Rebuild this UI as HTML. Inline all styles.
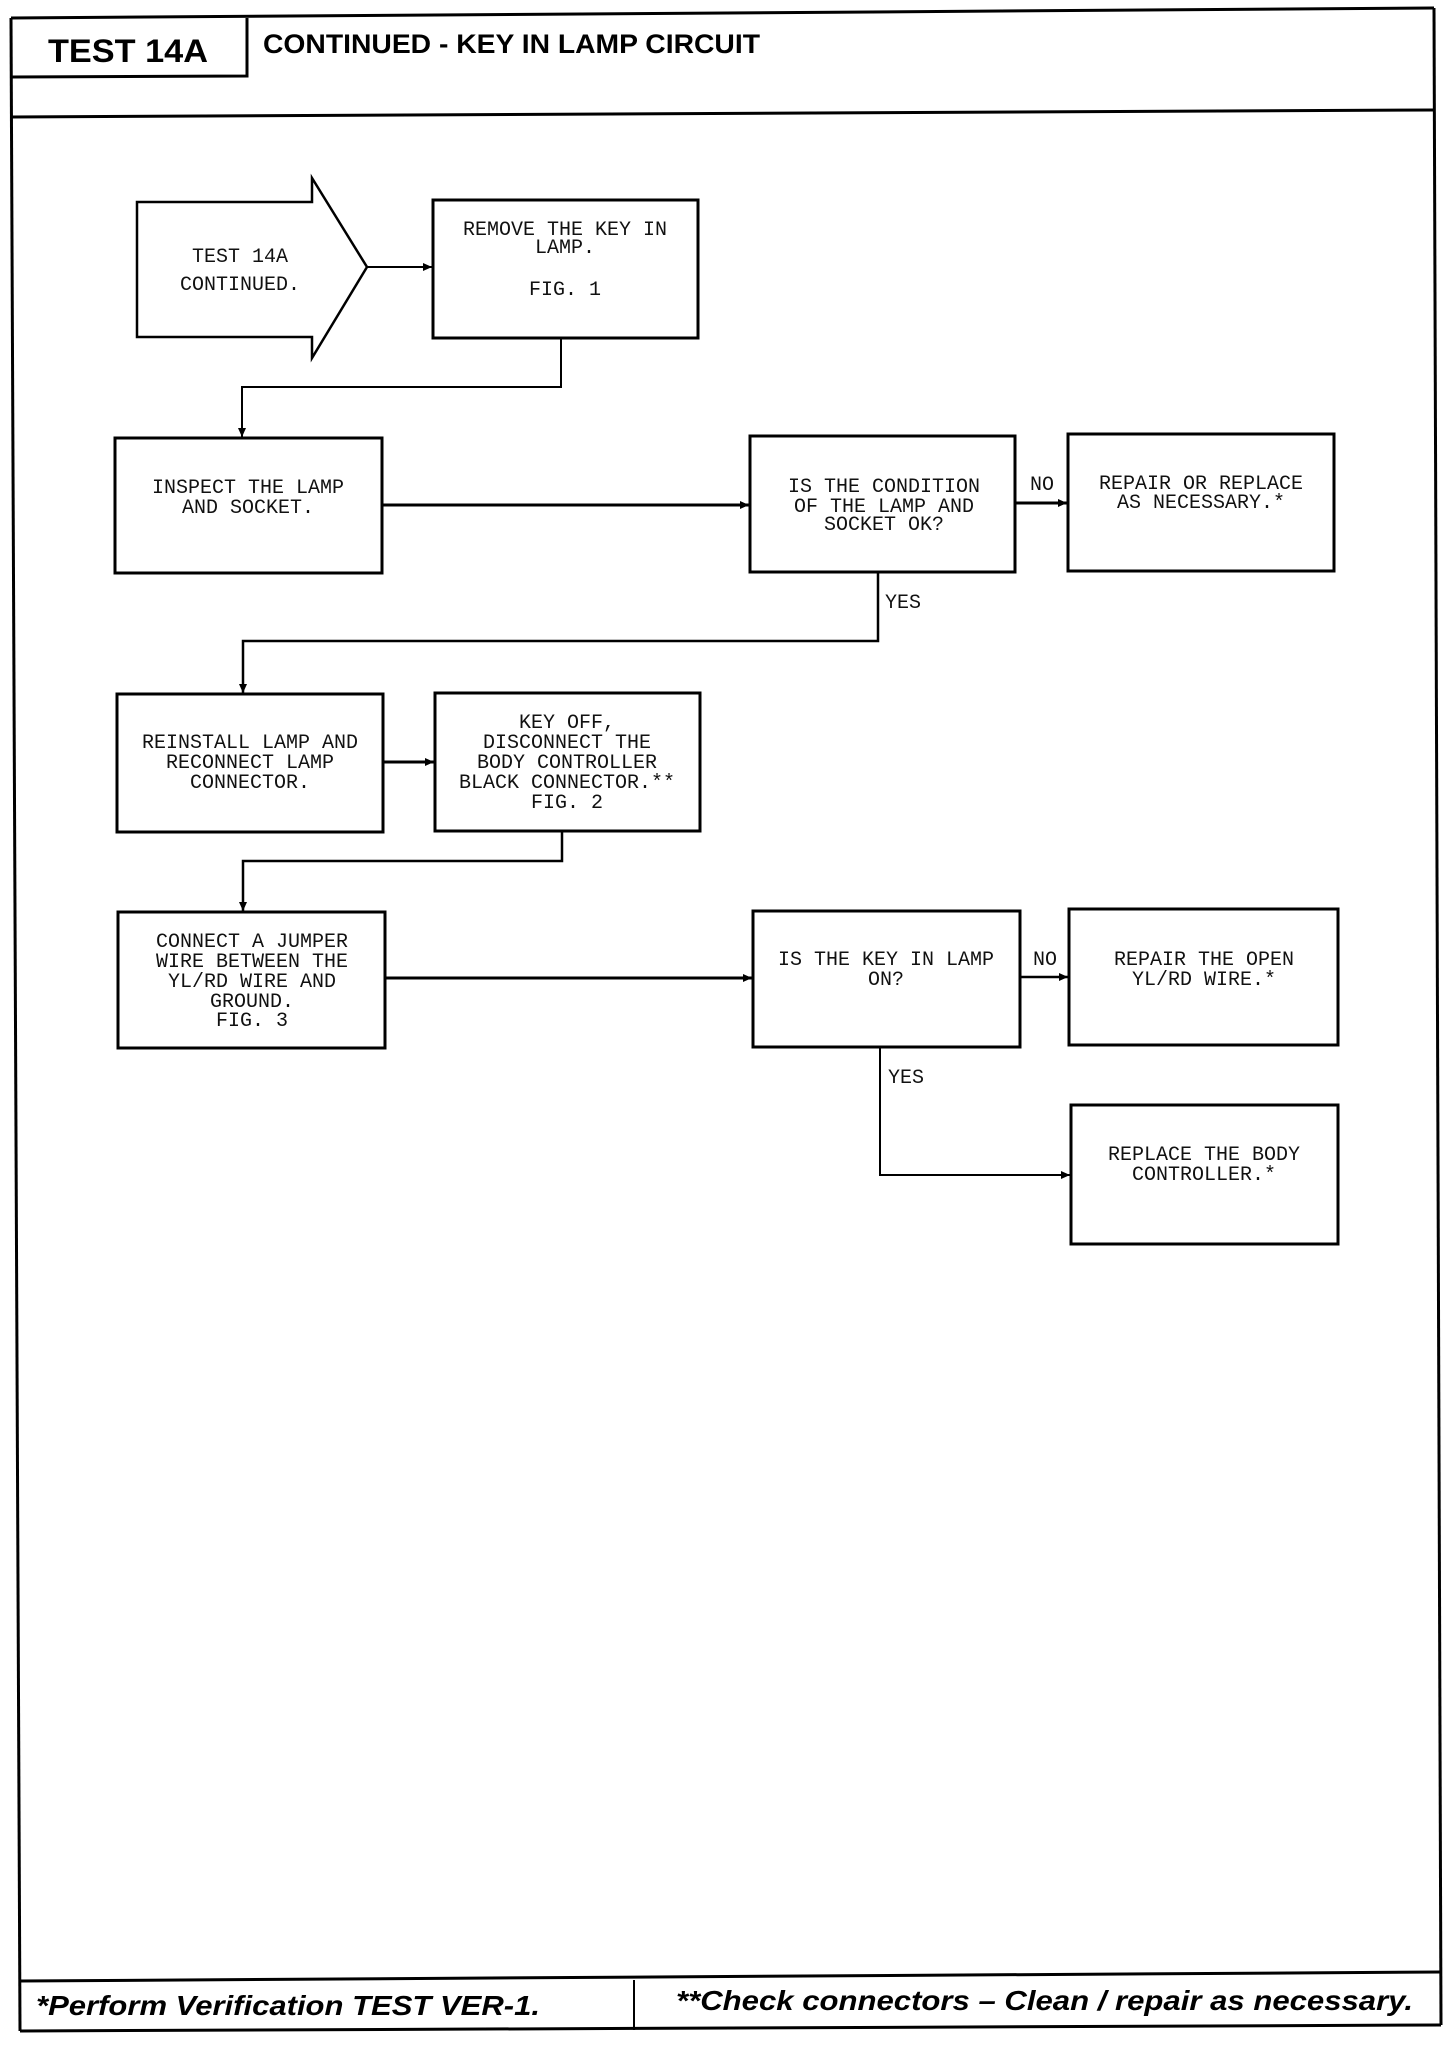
<!DOCTYPE html>
<html><head><meta charset="utf-8"><style>
html,body{margin:0;padding:0;background:#fff;}
svg{display:block;}
.t{font-family:"Liberation Mono",monospace;font-size:20px;fill:#111;text-anchor:middle;}
.l{font-family:"Liberation Mono",monospace;font-size:20px;fill:#111;}
.h{font-family:"Liberation Sans",sans-serif;font-weight:bold;fill:#000;}
</style></head><body>
<svg width="1456" height="2048" viewBox="0 0 1456 2048" xmlns="http://www.w3.org/2000/svg">
<defs><marker id="a" markerWidth="10" markerHeight="10" refX="9" refY="5" orient="auto" markerUnits="userSpaceOnUse"><path d="M0,1 L9,5 L0,9 z" fill="#000"/></marker></defs>
<g stroke="#000" fill="none" stroke-width="3">
<!-- outer frame -->
<line x1="11" y1="18" x2="1434" y2="8"/>
<line x1="11" y1="18" x2="20" y2="2031"/>
<line x1="1434" y1="8" x2="1441" y2="2025"/>
<line x1="20" y1="2031" x2="1441" y2="2025"/>
<line x1="11" y1="117" x2="1434" y2="110"/>
<line x1="20" y1="1981" x2="1441" y2="1972"/>
<line x1="634" y1="1980" x2="634" y2="2030" stroke-width="2"/>
<polyline points="11,77 247,76 247,18"/>
<!-- start arrow -->
<polygon points="137,202 312,202 312,178 367,267 312,358 312,337 137,337" stroke-width="2.5"/>
<!-- boxes -->
<rect x="433" y="200" width="265" height="138"/>
<rect x="115" y="438" width="267" height="135"/>
<rect x="750" y="436" width="265" height="136"/>
<rect x="1068" y="434" width="266" height="137"/>
<rect x="117" y="694" width="266" height="138"/>
<rect x="435" y="693" width="265" height="138"/>
<rect x="118" y="912" width="267" height="136"/>
<rect x="753" y="911" width="267" height="136"/>
<rect x="1069" y="909" width="269" height="136"/>
<rect x="1071" y="1105" width="267" height="139"/>
</g>
<g stroke="#000" fill="none" stroke-width="2">
<line x1="367" y1="267" x2="432" y2="267" marker-end="url(#a)"/>
<polyline points="561,338 561,387 242,387 242,437" marker-end="url(#a)"/>
<line x1="382" y1="505" x2="749" y2="505" stroke-width="3" marker-end="url(#a)"/>
<line x1="1015" y1="503" x2="1067" y2="503" stroke-width="3" marker-end="url(#a)"/>
<polyline points="878,572 878,641 243,641 243,693" stroke-width="2.5" marker-end="url(#a)"/>
<line x1="383" y1="762" x2="434" y2="762" stroke-width="3" marker-end="url(#a)"/>
<polyline points="562,831 562,861 243,861 243,911" stroke-width="2.5" marker-end="url(#a)"/>
<line x1="385" y1="978" x2="752" y2="978" stroke-width="3" marker-end="url(#a)"/>
<line x1="1020" y1="977" x2="1068" y2="977" stroke-width="2.5" marker-end="url(#a)"/>
<polyline points="880,1047 880,1175 1070,1175" marker-end="url(#a)"/>
</g>
<text class="h" x="48" y="62" font-size="32" textLength="160" lengthAdjust="spacingAndGlyphs">TEST 14A</text>
<text class="h" x="263" y="53" font-size="27" textLength="497" lengthAdjust="spacingAndGlyphs">CONTINUED - KEY IN LAMP CIRCUIT</text>
<text class="h" x="36" y="2015" font-size="28" font-style="italic" textLength="504" lengthAdjust="spacingAndGlyphs">*Perform Verification TEST VER-1.</text>
<text class="h" x="676" y="2010" font-size="28" font-style="italic" textLength="737" lengthAdjust="spacingAndGlyphs">**Check connectors – Clean / repair as necessary.</text>
<text class="t" x="240" y="262">TEST 14A</text>
<text class="t" x="240" y="290">CONTINUED.</text>
<text class="t" x="565" y="235">REMOVE THE KEY IN</text>
<text class="t" x="565" y="253">LAMP.</text>
<text class="t" x="565" y="295">FIG. 1</text>
<text class="t" x="248" y="493">INSPECT THE LAMP</text>
<text class="t" x="248" y="513">AND SOCKET.</text>
<text class="t" x="884" y="492">IS THE CONDITION</text>
<text class="t" x="884" y="512">OF THE LAMP AND</text>
<text class="t" x="884" y="530">SOCKET OK?</text>
<text class="l" x="1030" y="490">NO</text>
<text class="t" x="1201" y="489">REPAIR OR REPLACE</text>
<text class="t" x="1201" y="508">AS NECESSARY.*</text>
<text class="l" x="885" y="608">YES</text>
<text class="t" x="250" y="748">REINSTALL LAMP AND</text>
<text class="t" x="250" y="768">RECONNECT LAMP</text>
<text class="t" x="250" y="788">CONNECTOR.</text>
<text class="t" x="567" y="728">KEY OFF,</text>
<text class="t" x="567" y="748">DISCONNECT THE</text>
<text class="t" x="567" y="768">BODY CONTROLLER</text>
<text class="t" x="567" y="788">BLACK CONNECTOR.**</text>
<text class="t" x="567" y="808">FIG. 2</text>
<text class="t" x="252" y="947">CONNECT A JUMPER</text>
<text class="t" x="252" y="967">WIRE BETWEEN THE</text>
<text class="t" x="252" y="987">YL/RD WIRE AND</text>
<text class="t" x="252" y="1007">GROUND.</text>
<text class="t" x="252" y="1026">FIG. 3</text>
<text class="t" x="886" y="965">IS THE KEY IN LAMP</text>
<text class="t" x="886" y="985">ON?</text>
<text class="l" x="1033" y="965">NO</text>
<text class="t" x="1204" y="965">REPAIR THE OPEN</text>
<text class="t" x="1204" y="985">YL/RD WIRE.*</text>
<text class="l" x="888" y="1083">YES</text>
<text class="t" x="1204" y="1160">REPLACE THE BODY</text>
<text class="t" x="1204" y="1180">CONTROLLER.*</text>
</svg>
</body></html>
